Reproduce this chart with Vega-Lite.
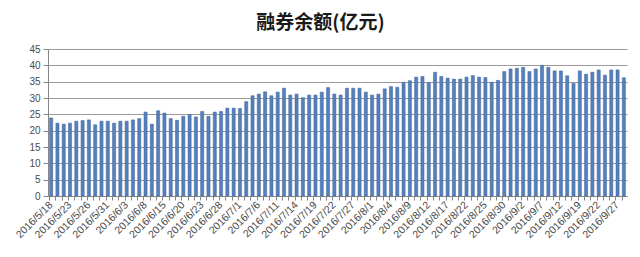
{
  "$schema": "https://vega.github.io/schema/vega-lite/v6.json",
  "width": 579,
  "height": 147,
  "autosize": {"type": "none"},
  "padding": {"left": 48, "top": 49, "right": 13, "bottom": 61},
  "background": "white",
  "title": {
    "text": "融券余额(亿元)",
    "font": "Noto Sans CJK SC",
    "fontSize": 19,
    "fontWeight": "bold",
    "color": "#1a1a1a",
    "anchor": "middle",
    "frame": "group",
    "dx": -17,
    "offset": 11
  },
  "config": {
    "view": {"stroke": null},
    "axis": {"labelFont": "Liberation Sans", "labelColor": "#4a4a4a", "domainColor": "#868686", "tickColor": "#868686"}
  },
  "data": {
    "values": [
      {"date": "2016/5/18", "value": 23.9},
      {"date": "2016/5/19", "value": 22.3},
      {"date": "2016/5/20", "value": 22.0},
      {"date": "2016/5/23", "value": 22.3},
      {"date": "2016/5/24", "value": 22.9},
      {"date": "2016/5/25", "value": 23.1},
      {"date": "2016/5/26", "value": 23.3},
      {"date": "2016/5/27", "value": 21.8},
      {"date": "2016/5/30", "value": 22.9},
      {"date": "2016/5/31", "value": 22.9},
      {"date": "2016/6/1", "value": 22.3},
      {"date": "2016/6/2", "value": 22.9},
      {"date": "2016/6/3", "value": 22.9},
      {"date": "2016/6/6", "value": 23.3},
      {"date": "2016/6/7", "value": 23.7},
      {"date": "2016/6/8", "value": 25.7},
      {"date": "2016/6/13", "value": 22.0},
      {"date": "2016/6/14", "value": 26.1},
      {"date": "2016/6/15", "value": 25.4},
      {"date": "2016/6/16", "value": 23.7},
      {"date": "2016/6/17", "value": 23.2},
      {"date": "2016/6/20", "value": 24.4},
      {"date": "2016/6/21", "value": 24.9},
      {"date": "2016/6/22", "value": 24.2},
      {"date": "2016/6/23", "value": 25.9},
      {"date": "2016/6/24", "value": 24.4},
      {"date": "2016/6/27", "value": 25.7},
      {"date": "2016/6/28", "value": 25.9},
      {"date": "2016/6/29", "value": 26.9},
      {"date": "2016/6/30", "value": 26.9},
      {"date": "2016/7/1", "value": 26.8},
      {"date": "2016/7/4", "value": 28.9},
      {"date": "2016/7/5", "value": 30.7},
      {"date": "2016/7/6", "value": 31.2},
      {"date": "2016/7/7", "value": 31.9},
      {"date": "2016/7/8", "value": 30.7},
      {"date": "2016/7/11", "value": 31.8},
      {"date": "2016/7/12", "value": 33.0},
      {"date": "2016/7/13", "value": 30.9},
      {"date": "2016/7/14", "value": 31.2},
      {"date": "2016/7/15", "value": 30.1},
      {"date": "2016/7/18", "value": 30.9},
      {"date": "2016/7/19", "value": 30.9},
      {"date": "2016/7/20", "value": 31.8},
      {"date": "2016/7/21", "value": 33.2},
      {"date": "2016/7/22", "value": 31.2},
      {"date": "2016/7/25", "value": 30.9},
      {"date": "2016/7/26", "value": 33.0},
      {"date": "2016/7/27", "value": 33.0},
      {"date": "2016/7/28", "value": 33.0},
      {"date": "2016/7/29", "value": 31.8},
      {"date": "2016/8/1", "value": 30.9},
      {"date": "2016/8/2", "value": 31.2},
      {"date": "2016/8/3", "value": 32.8},
      {"date": "2016/8/4", "value": 33.5},
      {"date": "2016/8/5", "value": 33.3},
      {"date": "2016/8/8", "value": 34.8},
      {"date": "2016/8/9", "value": 35.3},
      {"date": "2016/8/10", "value": 36.4},
      {"date": "2016/8/11", "value": 36.6},
      {"date": "2016/8/12", "value": 34.7},
      {"date": "2016/8/15", "value": 37.9},
      {"date": "2016/8/16", "value": 36.6},
      {"date": "2016/8/17", "value": 36.1},
      {"date": "2016/8/18", "value": 35.8},
      {"date": "2016/8/19", "value": 35.8},
      {"date": "2016/8/22", "value": 36.4},
      {"date": "2016/8/23", "value": 36.9},
      {"date": "2016/8/24", "value": 36.4},
      {"date": "2016/8/25", "value": 36.3},
      {"date": "2016/8/26", "value": 34.8},
      {"date": "2016/8/29", "value": 35.4},
      {"date": "2016/8/30", "value": 38.1},
      {"date": "2016/8/31", "value": 38.9},
      {"date": "2016/9/1", "value": 39.1},
      {"date": "2016/9/2", "value": 39.4},
      {"date": "2016/9/5", "value": 38.1},
      {"date": "2016/9/6", "value": 38.9},
      {"date": "2016/9/7", "value": 40.0},
      {"date": "2016/9/8", "value": 39.4},
      {"date": "2016/9/9", "value": 38.3},
      {"date": "2016/9/12", "value": 38.3},
      {"date": "2016/9/13", "value": 36.8},
      {"date": "2016/9/14", "value": 34.5},
      {"date": "2016/9/19", "value": 38.3},
      {"date": "2016/9/20", "value": 37.3},
      {"date": "2016/9/21", "value": 37.9},
      {"date": "2016/9/22", "value": 38.6},
      {"date": "2016/9/23", "value": 37.0},
      {"date": "2016/9/26", "value": 38.6},
      {"date": "2016/9/27", "value": 38.6},
      {"date": "2016/9/28", "value": 36.2}
    ]
  },
  "mark": {"type": "bar", "color": "#5580bb", "stroke": "#3e659c", "strokeWidth": 0.5},
  "encoding": {
    "x": {
      "field": "date",
      "type": "nominal",
      "sort": null,
      "title": null,
      "scale": {"paddingInner": 0.5, "paddingOuter": 0.25},
      "axis": {
        "labelAngle": -45,
        "labelAlign": "right",
        "labelBaseline": "middle",
        "labelFontSize": 10.5,
        "labelPadding": 3,
        "labelOverlap": false,
        "labelExpr": "round(datum.index * 91) % 3 == 0 ? datum.label : ''",
        "bandPosition": 0,
        "tickSize": 4,
        "grid": false,
        "domainColor": "#868686"
      }
    },
    "y": {
      "field": "value",
      "type": "quantitative",
      "title": null,
      "scale": {"domain": [0, 45], "nice": false},
      "axis": {
        "values": [0, 5, 10, 15, 20, 25, 30, 35, 40, 45],
        "labelFontSize": 10,
        "labelPadding": 3,
        "tickSize": 5,
        "grid": true,
        "gridColor": "#9a9a9a",
        "gridWidth": 1,
        "domain": true
      }
    }
  }
}
